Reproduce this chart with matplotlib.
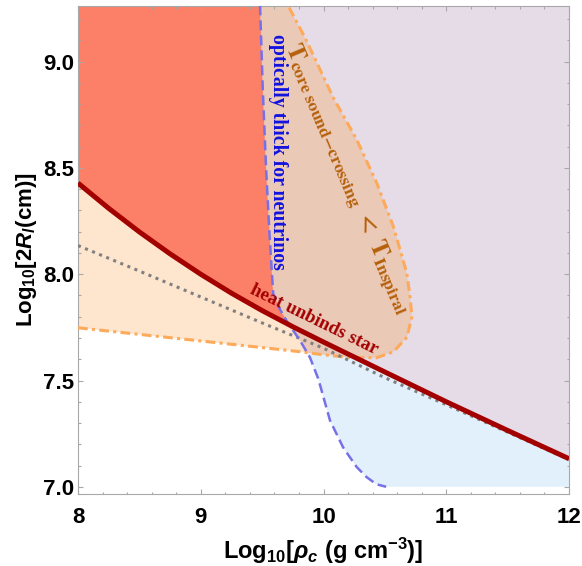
import matplotlib
matplotlib.use("Agg")
import matplotlib.pyplot as plt
from matplotlib.patches import Polygon
from matplotlib.ticker import MultipleLocator

plt.rcParams["font.family"] = ["Liberation Sans", "DejaVu Sans"]
plt.rcParams["font.weight"] = "bold"
plt.rcParams["axes.labelweight"] = "bold"
plt.rcParams["mathtext.fontset"] = "custom"
plt.rcParams["mathtext.rm"] = "Liberation Sans:bold"
plt.rcParams["mathtext.it"] = "Liberation Sans:italic:bold"
plt.rcParams["mathtext.bf"] = "Liberation Sans:bold"

# heat unbinds star (solid dark red)
rho_heat = [8.0, 8.25, 8.5, 8.75, 9.0, 9.25, 9.5, 9.75, 10.0, 10.5, 11.0, 11.5, 12.0]
r_heat = [8.429, 8.310, 8.199, 8.096, 8.000, 7.911, 7.829, 7.753, 7.681,
          7.540, 7.400, 7.265, 7.132]

# grey dotted line
rho_grey = [8.0, 8.5, 9.0, 9.5, 10.0, 10.5, 11.0, 11.5, 12.0]
r_grey = [8.135, 8.015, 7.893, 7.771, 7.652, 7.513, 7.386, 7.257, 7.128]

# optically thick for neutrinos (blue dashed)
rho_thick = [9.483, 9.505, 9.532, 9.56, 9.59, 9.64, 9.70, 9.81, 9.89, 9.958,
             10.053, 10.16, 10.27, 10.35, 10.43, 10.51]
r_thick = [9.265, 8.874, 8.5, 8.19, 7.91, 7.84, 7.78, 7.687, 7.608, 7.507,
           7.312, 7.185, 7.093, 7.046, 7.012, 7.0]

# T_core sound-crossing < T_inspiral boundary (orange dash-dot)
rho_sound = [8.0, 8.5, 9.0, 9.5, 9.8, 10.0, 10.2, 10.43, 10.57, 10.68, 10.72,
             10.705, 10.678, 10.569, 10.433, 10.27, 10.08, 9.863, 9.727, 9.71]
r_sound = [7.748, 7.717, 7.686, 7.655, 7.636, 7.621, 7.609, 7.607, 7.635, 7.704, 7.80,
           7.895, 8.006, 8.225, 8.43, 8.634, 8.83, 9.097, 9.247, 9.265]

x_ticks = [8, 9, 10, 11, 12]
y_ticks = [7.0, 7.5, 8.0, 8.5, 9.0]
y_floor = 7.0

c_salmon = "#FC7F67"
c_peach = "#FEE5CD"
c_tan = "#EBC9B7"
c_lavender = "#E6DCE8"
c_blue = "#E2F0FC"

fig, ax = plt.subplots(figsize=(5.82, 5.66), dpi=100)
fig.subplots_adjust(left=0.134, right=0.9777, bottom=0.1272, top=0.9894)

# region polygons
thick_pts = list(zip(rho_thick, r_thick))
blue_xy = [(rho_thick[0], 9.6)] + thick_pts + [(12.5, y_floor), (12.5, 9.6)]
left_xy = [(7.5, 9.6), (rho_thick[0], 9.6)] + thick_pts + [(rho_thick[-1], 6.5), (7.5, 6.5)]
heat_xy = list(zip(rho_heat, r_heat)) + [(12.5, r_heat[-1]), (12.5, 9.6), (7.5, 9.6), (7.5, r_heat[0])]
loop_xy = [(7.5, r_sound[0])] + list(zip(rho_sound, r_sound)) + [(rho_sound[-1], 9.6), (7.5, 9.6)]

blue_clip = Polygon(blue_xy, closed=True, transform=ax.transData)
left_clip = Polygon(left_xy, closed=True, transform=ax.transData)

ax.fill(*zip(*loop_xy), color=c_peach, lw=0, zorder=1)
ax.fill(*zip(*blue_xy), color=c_blue, lw=0, zorder=1.1)
lav = ax.fill(*zip(*heat_xy), color=c_lavender, lw=0, zorder=1.2)[0]
lav.set_clip_path(blue_clip)
tan = ax.fill(*zip(*loop_xy), color=c_tan, lw=0, zorder=1.3)[0]
tan.set_clip_path(blue_clip)
sal = ax.fill(*zip(*heat_xy), color=c_salmon, lw=0, zorder=1.4)[0]
sal.set_clip_path(left_clip)

# boundary lines
ax.plot(rho_sound, r_sound, color="#FDAA5A", lw=2.2,
        linestyle=(0, (3.2, 1.4, 1.0, 1.4)), dash_capstyle="butt", zorder=3)
ax.plot(rho_grey, r_grey, color="#808080", lw=2.2,
        linestyle=(0, (1, 1.5)), zorder=4)
ax.plot(rho_thick, r_thick, color="#7770E8", lw=1.8,
        linestyle=(0, (4, 2)), zorder=4.5)
ax.plot(rho_heat, r_heat, color="#A30000", lw=3.6, solid_capstyle="butt",
        solid_joinstyle="round", zorder=5)

# annotations
ax.text(9.629, 8.575, "optically thick for neutrinos", rotation=270,
        ha="center", va="center", rotation_mode="anchor",
        family="Liberation Serif", weight="bold", fontsize=14.2,
        color="#1212E0", zorder=6)
ax.text(9.923, 7.786, "heat unbinds star", rotation=-26,
        ha="center", va="center", rotation_mode="anchor",
        family="Liberation Serif", weight="bold", fontsize=13.5,
        color="#A30000", zorder=6)
ax.text(10.19, 8.45,
        r"$\mathrm{T}_{\mathrm{core\ sound{-}crossing}}\ <\ \mathrm{T}_{\mathrm{Inspiral}}$",
        rotation=-67, ha="center", va="center", rotation_mode="anchor",
        fontsize=18, color="#B5600A", math_fontfamily="stix", zorder=6)

# axes frame
ax.set_xlim(8, 12)
ax.set_ylim(6.966, 9.262)
ax.set_xticks(x_ticks)
ax.set_xticklabels([str(t) for t in x_ticks])
ax.set_yticks(y_ticks)
ax.set_yticklabels([f"{t:.1f}" for t in y_ticks])
ax.xaxis.set_minor_locator(MultipleLocator(0.2))
ax.yaxis.set_minor_locator(MultipleLocator(0.1))
ax.tick_params(which="both", direction="in", top=True, right=True,
               color="#A8A8A8", width=0.8)
ax.tick_params(which="major", length=3.6, labelsize=16)
ax.tick_params(which="minor", length=1.8)
ax.tick_params(axis="x", pad=9)
ax.tick_params(axis="y", pad=3)
for s in ax.spines.values():
    s.set_color("#A8A8A8")
    s.set_linewidth(0.8)

ax.set_xlabel(r"Log$_{10}$[$\rho_c$ (g cm$^{-3}$)]", fontsize=17,
              fontweight="bold", labelpad=6)
ax.set_ylabel(r"Log$_{10}$[2$R_l$(cm)]", fontsize=16,
              fontweight="bold", labelpad=3)

fig.savefig("out.png", dpi=100)
